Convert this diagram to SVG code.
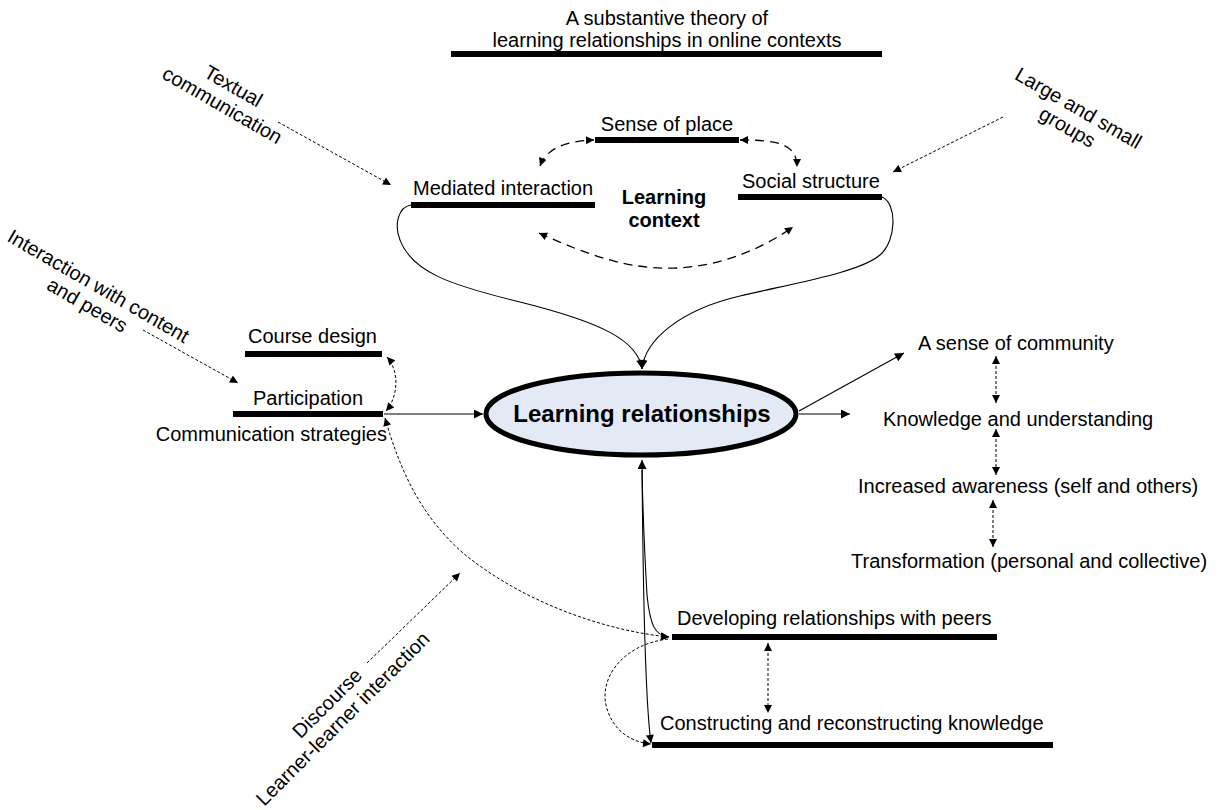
<svg xmlns="http://www.w3.org/2000/svg" width="1226" height="810" viewBox="0 0 1226 810">
  <style>
    text { font-family: "Liberation Sans", Arial, sans-serif; font-size: 20px; fill: #000; }
    .mid { text-anchor: middle; }
    .end { text-anchor: end; }
    .bold { font-weight: bold; }
    .bar { fill: #000; }
    .solid { fill: none; stroke: #000; stroke-width: 1.1; }
    .dash { fill: none; stroke: #000; stroke-width: 1.3; stroke-dasharray: 9 6; }
    .dot { fill: none; stroke: #000; stroke-width: 1; stroke-dasharray: 3 2; }
  </style>
  <defs>
    <marker id="ah" viewBox="0 0 10 10" refX="10" refY="5" markerWidth="11" markerHeight="9" orient="auto-start-reverse" markerUnits="userSpaceOnUse">
      <path d="M0,0 L10,5 L0,10 z" fill="#000"/>
    </marker>
    <marker id="as" viewBox="0 0 10 10" refX="10" refY="5" markerWidth="10" markerHeight="8" orient="auto-start-reverse" markerUnits="userSpaceOnUse">
      <path d="M0,0 L10,5 L0,10 z" fill="#000"/>
    </marker>
  </defs>

  <g id="title">
    <text class="mid" x="667" y="25">A substantive theory of</text>
    <text class="mid" x="667" y="47">learning relationships in online contexts</text>
    <rect class="bar" x="451" y="51" width="431" height="6"/>
  </g>

  <g id="sense-of-place">
    <text class="mid" x="667" y="131">Sense of place</text>
    <rect class="bar" x="595" y="137" width="144" height="6"/>
  </g>

  <g id="mediated-interaction">
    <text x="413" y="195">Mediated interaction</text>
    <rect class="bar" x="411" y="202" width="184" height="6"/>
  </g>

  <g id="social-structure">
    <text x="742" y="188">Social structure</text>
    <rect class="bar" x="738" y="194" width="144" height="6"/>
  </g>

  <g id="learning-context">
    <text class="mid bold" x="664" y="204">Learning</text>
    <text class="mid bold" x="664" y="227">context</text>
  </g>

  <g id="textual-communication" transform="translate(230,92) rotate(30)">
    <text class="mid" x="0" y="0">Textual</text>
    <text class="mid" x="0" y="22">communication</text>
  </g>

  <g id="large-small-groups" transform="translate(1075,114) rotate(30)">
    <text class="mid" x="0" y="0">Large and small</text>
    <text class="mid" x="0" y="22">groups</text>
  </g>

  <g id="interaction-content-peers" transform="translate(95,292) rotate(30)">
    <text class="mid" x="0" y="0">Interaction with content</text>
    <text class="mid" x="0" y="22">and peers</text>
  </g>

  <g id="discourse" transform="translate(332,708) rotate(-45)">
    <text class="mid" x="0" y="0">Discourse</text>
    <text class="mid" x="0" y="22">Learner-learner interaction</text>
  </g>

  <g id="course-design">
    <text x="248" y="343">Course design</text>
    <rect class="bar" x="245" y="351" width="137" height="6"/>
  </g>

  <g id="participation">
    <text x="253" y="405">Participation</text>
    <rect class="bar" x="233" y="411" width="150" height="6"/>
    <text class="end" x="387" y="441">Communication strategies</text>
  </g>

  <g id="learning-relationships">
    <ellipse cx="641" cy="414" rx="155" ry="41" fill="#E3EAF6" stroke="#000" stroke-width="5"/>
    <text class="mid bold" x="642" y="422" style="font-size:24px">Learning relationships</text>
  </g>

  <g id="outcomes">
    <text x="918" y="350">A sense of community</text>
    <text x="883" y="426">Knowledge and understanding</text>
    <text x="858" y="493">Increased awareness (self and others)</text>
    <text x="851" y="568">Transformation (personal and collective)</text>
  </g>

  <g id="developing-relationships">
    <text x="677" y="625">Developing relationships with peers</text>
    <rect class="bar" x="672" y="634" width="325" height="6"/>
  </g>

  <g id="constructing-knowledge">
    <text x="660" y="730">Constructing and reconstructing knowledge</text>
    <rect class="bar" x="652" y="742" width="401" height="6"/>
  </g>

  <g id="connectors">
    <!-- learning context cycle -->
    <path class="dash" d="M540,166 C546,150 562,141 594,140" marker-start="url(#as)" marker-end="url(#as)"/>
    <path class="dash" d="M740,140 C776,140 797,143 797,167" marker-start="url(#as)" marker-end="url(#as)"/>
    <path class="dash" d="M539,233 C590,256 630,270 677,268 C720,266 760,250 793,227" marker-start="url(#as)" marker-end="url(#as)"/>

    <!-- context into learning relationships -->
    <path class="solid" d="M411,205 C398,207 394,225 400,240 C412,272 450,285 520,302 C600,322 638,340 642,369" marker-end="url(#ah)"/>
    <path class="solid" d="M882,197 C897,203 897,240 880,255 C860,272 800,282 740,296 C680,310 645,340 642,369" marker-end="url(#ah)"/>

    <!-- outside influences -->
    <path class="dot" d="M278,122 L391,185" marker-end="url(#as)"/>
    <path class="dot" d="M1003,117 L893,172" marker-end="url(#as)"/>
    <path class="dot" d="M143,330 L238,383" marker-end="url(#as)"/>
    <path class="dot" d="M367,663 L460,573" marker-end="url(#as)"/>

    <!-- left side -->
    <path class="dot" d="M387,357 C399,370 399,396 386,411" marker-start="url(#as)" marker-end="url(#as)"/>
    <path class="solid" d="M384,414 L483,414" marker-end="url(#ah)"/>
    <path class="dot" d="M385,418 C400,470 420,515 463,553 C520,600 600,630 669,637" marker-start="url(#as)" marker-end="url(#as)"/>

    <!-- right side outcomes -->
    <path class="solid" d="M799,411 L904,353" marker-end="url(#ah)"/>
    <path class="solid" d="M799,414 L850,414" marker-end="url(#ah)"/>
    <path class="dot" d="M996,356 L996,403" marker-start="url(#as)" marker-end="url(#as)"/>
    <path class="dot" d="M996,429 L996,475" marker-start="url(#as)" marker-end="url(#as)"/>
    <path class="dot" d="M993,500 L993,547" marker-start="url(#as)" marker-end="url(#as)"/>

    <!-- lower relationships -->
    <path class="solid" d="M642,460 C643,600 645,700 651,743" marker-start="url(#ah)" marker-end="url(#as)"/>
    <path class="solid" d="M642,470 C643,520 645,560 647,595 C650,625 655,636 669,637" marker-end="url(#as)"/>
    <path class="dot" d="M668,639 C620,645 600,680 606,705 C612,730 630,742 651,744" marker-end="url(#as)"/>
    <path class="dot" d="M768,643 L768,713" marker-start="url(#as)" marker-end="url(#as)"/>
  </g>
</svg>
